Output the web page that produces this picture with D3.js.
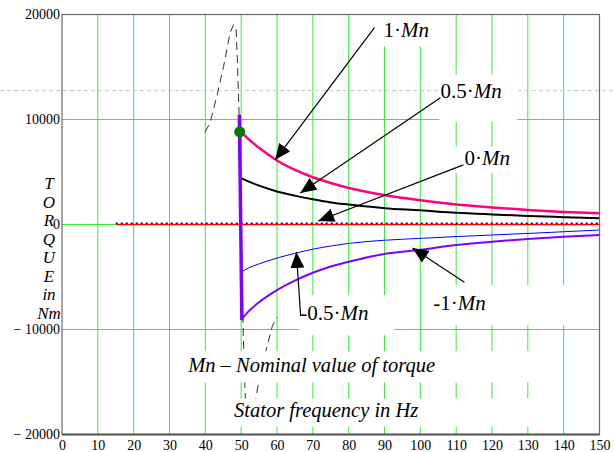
<!DOCTYPE html>
<html>
<head>
<meta charset="utf-8">
<script src="https://cdn.jsdelivr.net/npm/d3@7"></script>
<style>
  html, body { margin: 0; padding: 0; background: #fff; }
  svg { display: block; }
</style>
</head>
<body>
<div id="chart"></div>
<script>
// torque vs stator frequency

const freqs = [50, 52, 55, 60, 65, 70, 75, 80, 90, 100, 110, 120, 130, 140, 150];
const torquePlus1  = [8830, 8150, 7300, 6100, 5200, 4500, 3950, 3480, 2800, 2300, 1900, 1620, 1380, 1200, 1060];
const torquePlus05 = [4420, 4100, 3700, 3150, 2750, 2400, 2100, 1900, 1550, 1350, 1120, 960, 820, 700, 590];
const torqueMinus05 = [-4550, -4150, -3750, -3200, -2750, -2350, -2050, -1800, -1500, -1320, -1150, -1000, -850, -690, -525];
const torqueMinus1 = [-9100, -8300, -7400, -6250, -5350, -4600, -4000, -3550, -2800, -2400, -1950, -1640, -1380, -1160, -1000];

// zero-load line and its dotted twin
const zeroF = [15, 150];
const zeroT = [0, 0];
const zeroDotT = [130, 130];

// step at 50 Hz (thick violet) and the start point marker
const stepF = [49.5, 50.2];
const stepT = [10450, -9100];
const startPoint = { f: 49.6, t: 8830 };

// thin dashed breakdown curve
const dashF = [39.9, 41.3, 43.2, 45.1, 46.9, 47.9, 48.6, 49.0, 49.4, 50.6, 51.0, 51.4, 52.1, 53.1, 54.9, 56.8, 58.7, 60.1];
const dashT = [8800, 9660, 12200, 15060, 18250, 19050, 18570, 15060, 10620, -10620, -15060, -18570, -19050, -18250, -15060, -12200, -9660, -8800];

const xTicks = d3.range(0, 151, 10);
const yTicks = [-20000, -10000, 0, 10000, 20000];
const gridX = d3.range(10, 141, 10);
const gridY = [-10000, 0, 10000];
const pageDashT = 12750;

// annotation labels: text parts, label anchor, leader start, arrow tip
const labels = [
  { parts: [["1·", false], ["Mn", true]], f: 89.7, t: 17860, from: [87.2, 18760], to: [59.5, 6160] },
  { parts: [["0.5·", false], ["Mn", true]], f: 105.6, t: 12080, from: [105.6, 12080], to: [66.5, 3010] },
  { parts: [["0·", false], ["Mn", true]], f: 112.3, t: 5680, from: [112.0, 5680], to: [71.5, 330] },
  { parts: [["-0.5·", false], ["Mn", true]], f: 66.5, t: -9120, from: [66.6, -8700], to: [65.4, -2620] },
  { parts: [["-1·", false], ["Mn", true]], f: 103.6, t: -8160, from: [112.3, -5490], to: [97.8, -2240] }
];
const notes = [
  { text: "Mn – Nominal value of torque", f: 35.2, t: -14000 },
  { text: "Stator frequency in Hz", f: 48.0, t: -18380 }
];
// white text-region boxes [f0, f1, t0, t1]
const boxes = [
  [87.4, 105.6, 20000, 16950],
  [105.3, 127.1, 14270, 9790],
  [108.4, 127.4, 7400, 4920],
  [66.2, 92.7, -6730, -10550],
  [102.2, 147.5, -5780, -9590],
  [35.2, 135.8, -12070, -15040],
  [42.7, 135.8, -16560, -19240]
];
const yLabel = ["T", "O", "R", "Q", "U", "E", "in", "Nm"];

const totalW = 614, totalH = 452;
const SERIF = "'Liberation Serif', 'Times New Roman', serif";

const svg = d3.select("#chart").append("svg")
  .attr("width", totalW).attr("height", totalH);

const x = d3.scaleLinear().domain([0, 150]).range([62, 599.5]);
const y = d3.scaleLinear().domain([-20000, 20000]).range([434.5, 14.5]);

// gridlines
svg.append("g").selectAll("line").data(gridX).join("line")
  .attr("x1", d => x(d)).attr("x2", d => x(d)).attr("y1", y(20000)).attr("y2", y(-20000))
  .attr("stroke", "#33ee33").attr("stroke-width", 1);
svg.append("g").selectAll("line").data(gridY).join("line")
  .attr("x1", x(0)).attr("x2", x(150)).attr("y1", d => y(d)).attr("y2", d => y(d))
  .attr("stroke", "#33ee33").attr("stroke-width", 1);

// light dashed line across the page
svg.append("line").attr("x1", 0).attr("x2", totalW).attr("y1", y(pageDashT)).attr("y2", y(pageDashT))
  .attr("stroke", "#c8c8c8").attr("stroke-width", 1).attr("stroke-dasharray", "4,3");

const line = d3.line().x(d => x(d[0])).y(d => y(d[1]));
const smooth = d3.line().x(d => x(d[0])).y(d => y(d[1])).curve(d3.curveMonotoneX);

// dashed breakdown curve
svg.append("path").datum(d3.zip(dashF, dashT))
  .attr("d", line.curve(d3.curveLinear)).attr("fill", "none")
  .attr("stroke", "#333").attr("stroke-width", 1).attr("stroke-dasharray", "8,5");

// white boxes of text regions
svg.append("g").selectAll("rect").data(boxes).join("rect")
  .attr("x", d => x(d[0])).attr("y", d => y(d[2]))
  .attr("width", d => x(d[1]) - x(d[0])).attr("height", d => y(d[3]) - y(d[2]))
  .attr("fill", "#fff");

// zero lines
svg.append("path").datum(d3.zip(zeroF, zeroT)).attr("d", line)
  .attr("fill", "none").attr("stroke", "#ff0000").attr("stroke-width", 1.5);
svg.append("path").datum(d3.zip(zeroF, zeroDotT)).attr("d", line)
  .attr("fill", "none").attr("stroke", "#0000ff").attr("stroke-width", 1.5).attr("stroke-dasharray", "2,3");

// torque curves
const series = [
  { v: torquePlus05, c: "#000000", w: 2 },
  { v: torqueMinus05, c: "#0000ff", w: 1 },
  { v: torqueMinus1, c: "#8000ff", w: 2 },
  { v: torquePlus1, c: "#ff0080", w: 2.5 }
];
series.forEach(s => {
  svg.append("path").datum(d3.zip(freqs, s.v)).attr("d", smooth)
    .attr("fill", "none").attr("stroke", s.c).attr("stroke-width", s.w);
});

svg.append("path").datum(d3.zip(stepF, stepT)).attr("d", line)
  .attr("fill", "none").attr("stroke", "#8000ff").attr("stroke-width", 3.5);

svg.append("circle").attr("cx", x(startPoint.f)).attr("cy", y(startPoint.t)).attr("r", 5.5)
  .attr("fill", "#007a00");

// arrows
svg.append("defs").append("marker").attr("id", "arr")
  .attr("markerUnits", "userSpaceOnUse").attr("markerWidth", 17).attr("markerHeight", 14)
  .attr("refX", 16).attr("refY", 7).attr("orient", "auto")
  .append("path").attr("d", "M0,0 L16,7 L0,14 Z").attr("fill", "#000");

svg.append("g").selectAll("line").data(labels).join("line")
  .attr("x1", d => x(d.from[0])).attr("y1", d => y(d.from[1]))
  .attr("x2", d => x(d.to[0])).attr("y2", d => y(d.to[1]))
  .attr("stroke", "#000").attr("stroke-width", 1.2).attr("marker-end", "url(#arr)");

labels.forEach(d => {
  const t = svg.append("text").attr("x", x(d.f)).attr("y", y(d.t))
    .style("font-family", SERIF).style("font-size", "21px").attr("fill", "#000");
  d.parts.forEach(p => t.append("tspan").style("font-style", p[1] ? "italic" : "normal").text(p[0]));
});

notes.forEach(d => {
  svg.append("text").attr("x", x(d.f)).attr("y", y(d.t))
    .style("font-family", SERIF).style("font-size", "20.5px").style("font-style", "italic")
    .attr("fill", "#000").text(d.text);
});

// y label stacked
svg.append("g").selectAll("text").data(yLabel).join("text")
  .attr("x", 49).attr("y", (d, i) => 189 + i * 18.5)
  .attr("text-anchor", "middle")
  .style("font-family", SERIF).style("font-size", "17px").style("font-style", "italic")
  .text(d => d);

// frame
svg.append("rect").attr("x", x(0)).attr("y", y(20000))
  .attr("width", x(150) - x(0)).attr("height", y(-20000) - y(20000))
  .attr("fill", "none").attr("stroke", "#6a6a6a").attr("stroke-width", 1.2);
svg.append("line").attr("x1", x(0)).attr("x2", x(150)).attr("y1", y(-20000)).attr("y2", y(-20000))
  .attr("stroke", "#555").attr("stroke-width", 2);

// axes
const TICK = sel => sel
  .call(a => a.select(".domain").remove())
  .call(a => a.selectAll("text").attr("fill", "#000")
    .style("font-family", SERIF).style("font-size", "14px"));

svg.append("g").attr("transform", `translate(0,${y(-20000)})`)
  .call(d3.axisBottom(x).tickValues(xTicks).tickSize(0).tickPadding(6)).call(TICK);
svg.append("g").attr("transform", `translate(${x(0)},0)`)
  .call(d3.axisLeft(y).tickValues(yTicks).tickSize(0).tickPadding(2)
    .tickFormat(d => d < 0 ? "− " + Math.abs(d) : String(d))).call(TICK);
</script>
</body>
</html>
